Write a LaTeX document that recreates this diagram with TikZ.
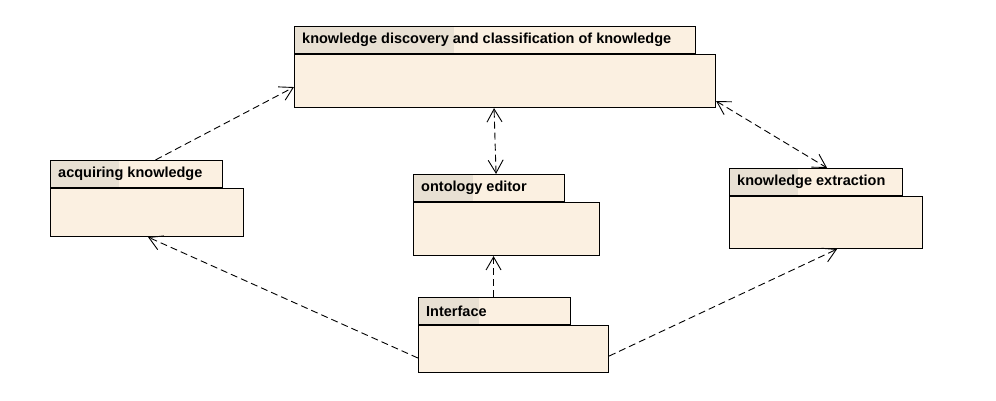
\documentclass[tikz,border=0pt]{standalone}
\usepackage{fontspec}
\setmainfont{Liberation Sans}
\usetikzlibrary{arrows.meta}
\definecolor{pkgfill}{HTML}{FBF0E1}
\definecolor{pkgshade}{HTML}{E8E0D3}
\begin{document}
\begin{tikzpicture}[x=1pt,y=-1pt,
    body/.style={draw=black,line width=1.1pt,fill=pkgfill,anchor=north west,inner sep=0pt},
    tab/.style={draw=black,line width=1.1pt,anchor=south west,inner sep=0pt,minimum height=27pt},
    dep/.style={line width=0.9pt,dash pattern=on 7pt off 4pt,
        -{Straight Barb[length=13pt,width=15pt,line width=0.9pt]}},
    bidep/.style={dep,{Straight Barb[length=13pt,width=15pt,line width=0.9pt]}-{Straight Barb[length=13pt,width=15pt,line width=0.9pt]}}]
    \useasboundingbox (0,0) rectangle (996,400);

    % Pakete
    \newcommand{\pkgbox}[7]{%
        \node[body,minimum width=#5,minimum height=#6] (#1) at (#2,#3) {};
        \fill[pkgfill] (#2,#3-27) rectangle (#2+#4,#3);
        \fill[pkgshade] (#2,#3-27) rectangle (#2+0.4*#4,#3);
        \node[tab,minimum width=#4] (#1tab) at (#2,#3) {};
        \node[anchor=west,inner sep=0pt,font=\fontsize{14.5}{16}\selectfont\bfseries] (#1txt) at (#2+8,#3-14) {#7};
    }
    \pkgbox{kd}{294}{54}{401}{421}{53}{knowledge discovery and classification of knowledge}
    \pkgbox{ak}{50}{188}{172}{193}{48}{acquiring knowledge}
    \pkgbox{oe}{413}{202}{151}{186}{53}{ontology editor}
    \pkgbox{ke}{729}{196}{173}{193}{52}{knowledge extraction}
    \pkgbox{ui}{418}{325}{152}{190}{47}{Interface}

    % Abhaengigkeiten
    \draw[dep] ([xshift=19]aktab.north) -- ([yshift=-6]kd.west);
    \draw[bidep] ([xshift=7]oetab.north) -- ([xshift=-11]kd.south);
    \draw[bidep] ([yshift=-20]kd.east) -- ([xshift=11]ketab.north);
    \draw[dep] ([yshift=-9]ui.west) -- ([xshift=1]ak.south);
    \draw[dep] ([xshift=-1]uitab.north) -- ([xshift=-13]oe.south);
    \draw[dep] ([yshift=-7]ui.east) -- ([xshift=11]ke.south);
\end{tikzpicture}
\end{document}
